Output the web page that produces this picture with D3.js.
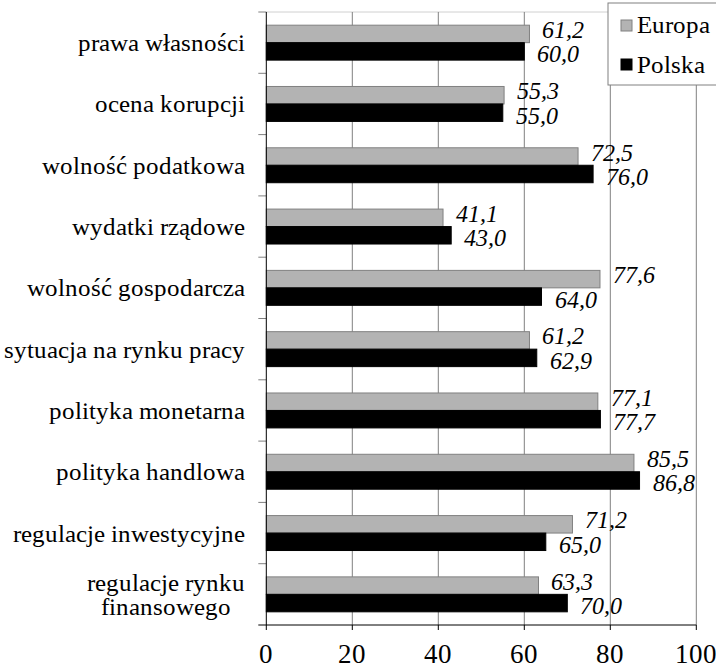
<!DOCTYPE html>
<html>
<head>
<meta charset="utf-8">
<script src="https://cdn.jsdelivr.net/npm/d3@7"></script>
<style>
  @font-face { font-family: "ChartSerif"; src: local("Liberation Serif"), local("LiberationSerif"); font-style: normal; }
  @font-face { font-family: "ChartSerif"; src: local("Liberation Serif Italic"), local("LiberationSerif-Italic"); font-style: italic; }
  text { font-family: "ChartSerif", "Liberation Serif", "Times New Roman", Times, serif; }
</style>
</head>
<body style="margin:0">
<svg width="716" height="669"></svg>
<script>
// data
const categories = ["prawa własności", "ocena korupcji", "wolność podatkowa", "wydatki rządowe",
  "wolność gospodarcza", "sytuacja na rynku pracy", "polityka monetarna", "polityka handlowa",
  "regulacje inwestycyjne", "regulacje rynku finansowego"];
const seriesNames = ["Europa", "Polska"];
const europa = [61.2, 55.3, 72.5, 41.1, 77.6, 61.2, 77.1, 85.5, 71.2, 63.3];
const polska = [60.0, 55.0, 76.0, 43.0, 64.0, 62.9, 77.7, 86.8, 65.0, 70.0];
const xTicks = [0, 20, 40, 60, 80, 100];

const fills = { Europa: "#b3b3b3", Polska: "#000" };
const strokes = { Europa: "#808080", Polska: "#000" };

let svg = d3.select("svg");
let pLeft = 266.3, pRight = 696.3, pTop = 12, pBottom = 625;

function txt(sel, size) {
  return sel.append("text").attr("font-size", size + "px");
}

let x = d3.scaleLinear().domain([0, 100]).range([pLeft, pRight]);
let y = d3.scaleBand().domain(categories).range([pTop, pBottom]).paddingInner(0.43).paddingOuter(0.215);
let ySub = d3.scaleBand().domain(seriesNames).range([0, y.bandwidth()]);

let rows = categories.map((c, i) => ({ cat: c, vals: [
  { s: "Europa", v: europa[i] }, { s: "Polska", v: polska[i] }] }));

// top border + gridlines
svg.append("line").attr("x1", pLeft).attr("x2", pRight).attr("y1", pTop).attr("y2", pTop)
  .attr("stroke", "#d0d0d0");
svg.append("g").selectAll("line").data(xTicks.slice(1)).enter().append("line")
  .attr("x1", d => x(d)).attr("x2", d => x(d)).attr("y1", pTop).attr("y2", pBottom)
  .attr("stroke", "#808080").attr("stroke-width", 1);

// left tick marks at category boundaries
let step = (pBottom - pTop) / categories.length;
svg.append("g").selectAll("line").data(d3.range(categories.length)).enter().append("line")
  .attr("x1", pLeft - 8).attr("x2", pLeft).attr("y1", d => pTop + step * d).attr("y2", d => pTop + step * d)
  .attr("stroke", "#808080");

// bars + value labels
rows.forEach(r => {
  let g = svg.append("g").attr("transform", `translate(0,${y(r.cat)})`);
  r.vals.forEach(d => {
    g.append("rect")
      .attr("x", x(0)).attr("y", ySub(d.s))
      .attr("width", x(d.v) - x(0)).attr("height", ySub.bandwidth())
      .attr("fill", fills[d.s]).attr("stroke", strokes[d.s]).attr("stroke-width", 1);
    txt(g, 23.5).attr("font-style", "italic")
      .attr("x", x(d.v) + 13)
      .attr("y", ySub(d.s) + ySub.bandwidth() / 2 + (d.s === "Europa" ? 4 : 11))
      .text(d3.format(".1f")(d.v).replace(".", ","));
  });
});

// axes lines
svg.append("line").attr("x1", pLeft).attr("x2", pLeft).attr("y1", pTop).attr("y2", pBottom).attr("stroke", "#000");
svg.append("line").attr("x1", pLeft - 8).attr("x2", pRight).attr("y1", pBottom).attr("y2", pBottom).attr("stroke", "#000");
svg.append("g").selectAll("line").data(xTicks).enter().append("line")
  .attr("x1", d => x(d)).attr("x2", d => x(d)).attr("y1", pBottom).attr("y2", pBottom + 5).attr("stroke", "#000");
xTicks.forEach(t => {
  txt(svg, 27).attr("x", x(t)).attr("y", pBottom + 38).attr("text-anchor", "middle").text(t);
});

// category labels; long ones wrap onto centred lines (by character count)
let labelRight = 245, maxChars = 24, catSize = 24.5, charW = 0.43 * catSize;
categories.forEach(c => {
  let cy = y(c) + y.bandwidth() / 2;
  if (c.length <= maxChars) {
    txt(svg, catSize).attr("x", labelRight).attr("y", cy + 8.5).attr("text-anchor", "end").text(c);
    return;
  }
  let lines = [], cur = "";
  c.split(" ").forEach(w => {
    let next = cur ? cur + " " + w : w;
    if (next.length > 16 && cur) { lines.push(cur); cur = w; } else cur = next;
  });
  lines.push(cur);
  let cx = labelRight - d3.max(lines, l => l.length) * charW / 2;
  let lh = 24, y0 = cy + 8.5 - (lines.length - 1) * lh / 2;
  lines.forEach((l, i) => {
    txt(svg, catSize).attr("x", cx).attr("y", y0 + i * lh).attr("text-anchor", "middle").text(l);
  });
});

// legend
let legend = svg.append("g").attr("transform", "translate(608,3)");
legend.append("rect").attr("width", 120).attr("height", 82).attr("fill", "#fff").attr("stroke", "#808080");
seriesNames.forEach((s, i) => {
  legend.append("rect").attr("x", 13).attr("y", 17 + i * 39).attr("width", 11).attr("height", 11)
    .attr("fill", fills[s]).attr("stroke", strokes[s]);
  txt(legend, 24.5).attr("x", 29).attr("y", 30 + i * 40).text(s);
});
</script>
</body>
</html>
